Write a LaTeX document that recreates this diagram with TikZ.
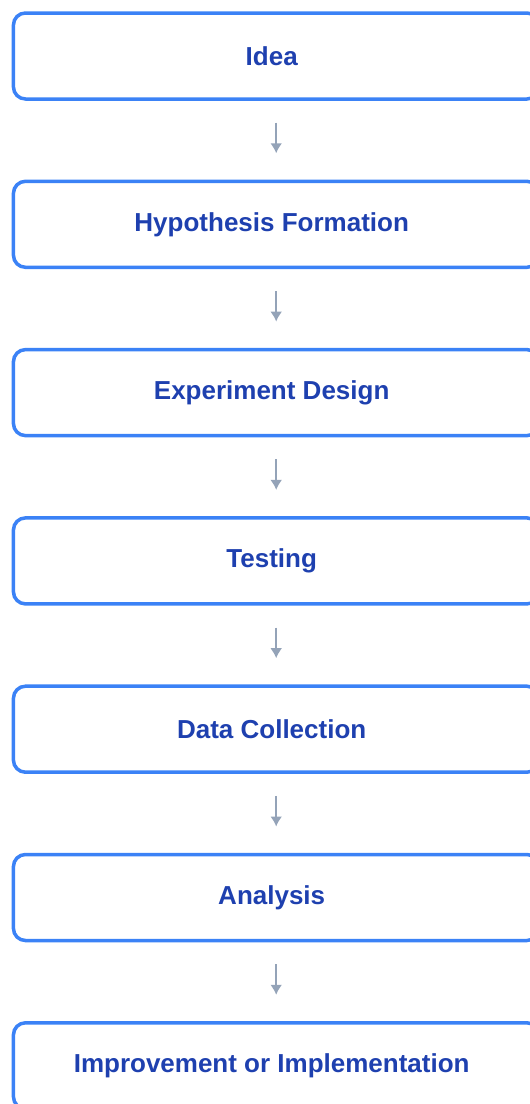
\documentclass[tikz,border=0pt]{standalone}
\usepackage{fontspec}
\setmainfont{Liberation Sans}
\usetikzlibrary{positioning,arrows.meta}
\definecolor{boxblue}{HTML}{3B82F6}
\definecolor{textblue}{HTML}{1E40AF}
\definecolor{arrowgray}{HTML}{94A3B8}
\begin{document}
\begin{tikzpicture}[-{Latex[length=5pt,width=6pt]}, node distance=84.15pt, line width=1pt,
        stage/.style = {draw=boxblue, line width=1.75pt, rounded corners=6pt, outer sep=0pt,
                        minimum width=262.75pt, minimum height=43pt,
                        text=textblue, font=\bfseries\fontsize{13pt}{15pt}\selectfont,
                        execute at begin node={\hspace*{-4.5pt}}},
        flow/.style = {draw=arrowgray, shorten <=11.85pt, shorten >=14pt}]
            \useasboundingbox (0,0) rectangle (265pt,-552pt);

            \node[stage] (idea) at (138.1pt,-28pt) {Idea};
            \node[stage] (hyp) [below of=idea] {Hypothesis Formation};
            \node[stage] (design) [below of=hyp] {Experiment Design};
            \node[stage] (test) [below of=design] {Testing};
            \node[stage] (data) [below of=test] {Data Collection};
            \node[stage] (analysis) [below of=data] {Analysis};
            \node[stage] (impl) [below of=analysis] {Improvement or Implementation};

            \draw[flow] (idea) -- (hyp);
            \draw[flow] (hyp) -- (design);
            \draw[flow] (design) -- (test);
            \draw[flow] (test) -- (data);
            \draw[flow] (data) -- (analysis);
            \draw[flow] (analysis) -- (impl);

        \end{tikzpicture}
\end{document}
